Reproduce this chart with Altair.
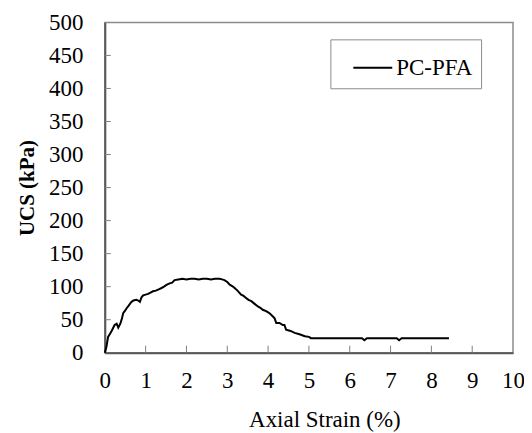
import altair as alt
import pandas as pd

strain = [0, 0.04, 0.08, 0.12, 0.16, 0.2, 0.24, 0.29, 0.33, 0.38,
          0.42, 0.45, 0.5, 0.53, 0.58, 0.65, 0.7, 0.77, 0.82, 0.86,
          0.9, 0.94, 1.0, 1.06, 1.12, 1.18, 1.25, 1.32, 1.39, 1.45,
          1.52, 1.59, 1.65, 1.71, 1.8, 1.9, 2.0, 2.1, 2.2, 2.3,
          2.4, 2.5, 2.6, 2.7, 2.81, 2.87, 2.93, 3.0, 3.06, 3.12,
          3.18, 3.25, 3.34, 3.4, 3.46, 3.52, 3.59, 3.67, 3.75, 3.81,
          3.87, 3.95, 4.03, 4.1, 4.16, 4.2, 4.28, 4.36, 4.4, 4.44,
          4.55, 4.65, 4.77, 4.9, 5.0, 5.05, 5.2, 5.35, 5.5, 5.7,
          6.0, 6.3, 6.36, 6.42, 6.8, 7.15, 7.21, 7.27, 7.7, 8.1,
          8.43]
ucs = [0, 9, 24, 28, 32, 37, 42, 44, 38, 44,
       52, 60, 64, 67, 71, 77, 79, 80, 79, 77,
       84, 87, 88, 89, 91, 93, 94, 96, 98, 100,
       103, 105, 106, 110, 111, 112, 111, 112, 112, 111,
       112, 112, 111, 112, 112, 111, 110, 107, 103, 101,
       98, 94, 88, 86, 83, 80, 78, 74, 70, 68,
       65, 63, 60, 56, 52, 45, 45, 42, 42, 35,
       33, 30, 28, 25, 24, 22, 22, 22, 22, 22,
       22, 22, 19, 22, 22, 22, 19, 22, 22, 22,
       22]
series_name = "PC-PFA"

x_ticks = [0, 1, 2, 3, 4, 5, 6, 7, 8, 9, 10]
y_ticks = [0, 50, 100, 150, 200, 250, 300, 350, 400, 450, 500]

W, H = 409, 331
FONT = "Liberation Serif"

df = pd.DataFrame({"strain": strain, "ucs": ucs, "series": [series_name] * len(strain)})
xt = pd.DataFrame({"v": x_ticks[1:-1]})
yt = pd.DataFrame({"v": y_ticks[1:-1]})

xscale = alt.Scale(domain=[0, 10], nice=False, zero=False)
yscale = alt.Scale(domain=[0, 500], nice=False)

common = dict(labelFont=FONT, titleFont=FONT, labelFontSize=23, labelColor="black",
              titleColor="black", ticks=False, grid=False, labelOverlap=False,
              labelFlush=False, domainColor="#595959", domainWidth=2)
xaxis = alt.Axis(values=x_ticks, title="Axial Strain (%)", labelPadding=17,
                 titlePadding=16, titleX=220, titleFontSize=23,
                 titleFontWeight="normal", **common)
yaxis = alt.Axis(values=y_ticks, title="UCS (kPa)", labelPadding=22,
                 titlePadding=11, titleFontWeight="bold", titleFontSize=21, **common)

line = alt.Chart(df).mark_line(strokeWidth=2, interpolate="linear").encode(
    x=alt.X("strain:Q", scale=xscale, axis=xaxis),
    y=alt.Y("ucs:Q", scale=yscale, axis=yaxis),
    color=alt.Color("series:N", scale=alt.Scale(range=["black"]),
                    legend=alt.Legend(title=None, orient="none", legendX=226, legendY=17,
                                      symbolType="stroke", symbolSize=1521,
                                      symbolStrokeWidth=2, symbolOffset=14,
                                      labelOffset=3, labelFontSize=23, labelFont=FONT,
                                      labelColor="black",
                                      padding=8, strokeColor="#8c8c8c",
                                      fillColor="white")),
)

yticks = alt.Chart(yt).mark_rule(color="#7f7f7f", strokeWidth=1).encode(
    y=alt.Y("v:Q", scale=yscale, axis=yaxis), x=alt.value(0), x2=alt.value(6))
xticks = alt.Chart(xt).mark_rule(color="#7f7f7f", strokeWidth=1).encode(
    x=alt.X("v:Q", scale=xscale, axis=xaxis), y=alt.value(H), y2=alt.value(H - 7))

chart = alt.layer(line, yticks, xticks).properties(
    width=W, height=H,
    background="white",
    autosize=alt.AutoSizeParams(type="none"),
    padding={"left": 97, "top": 14, "right": 11, "bottom": 80},
).configure_view(
    stroke="#8c8c8c", strokeWidth=1.5
).configure_axis(
    labelFont=FONT, titleFont=FONT,
)

chart.save("out.html", embed_options={"renderer": "svg", "actions": False})
